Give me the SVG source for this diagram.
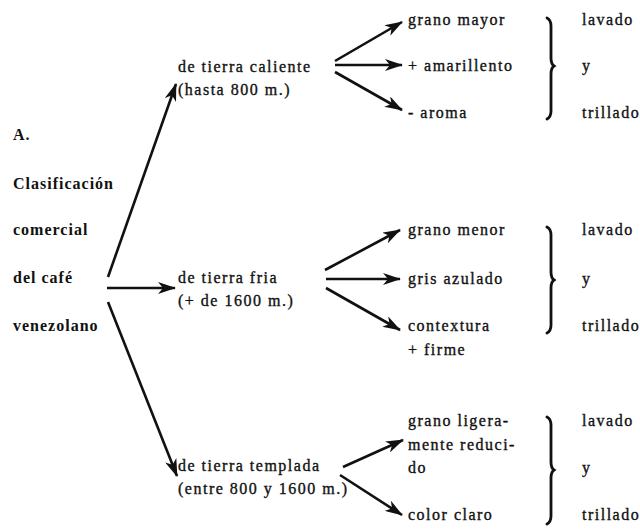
<svg xmlns="http://www.w3.org/2000/svg" width="640" height="529" viewBox="0 0 640 529">
<style>
.t{font-family:"Liberation Serif","Times New Roman",serif;font-size:16px;letter-spacing:1.5px;fill:#111;stroke:#111;stroke-width:0.35}
.b{font-family:"Liberation Serif","Times New Roman",serif;font-size:16px;font-weight:bold;letter-spacing:1px;fill:#111}
.c{stroke:#111;stroke-width:2.6;fill:none}
.br{stroke:#111;stroke-width:2.8;fill:none;stroke-linecap:round}
</style>
<defs>
<marker id="ah" viewBox="0 0 18 12" refX="17" refY="6" markerWidth="18" markerHeight="12" markerUnits="userSpaceOnUse" orient="auto">
<path d="M0,0 L18,6 L0,12 L5,6 Z" fill="#111"/>
</marker>
</defs>
<g id="root">
<text class="b" x="13" y="140">A.</text>
<text class="b" x="13" y="189">Clasificación</text>
<text class="b" x="13" y="235">comercial</text>
<text class="b" x="13" y="283">del café</text>
<text class="b" x="13" y="331">venezolano</text>
</g>
<g id="caliente">
<text class="t" x="178" y="72">de tierra caliente</text>
<text class="t" x="178" y="95">(hasta 800 m.)</text>
</g>
<g id="fria">
<text class="t" x="178" y="283">de tierra fria</text>
<text class="t" x="178" y="306">(+ de 1600 m.)</text>
</g>
<g id="templada">
<text class="t" x="178" y="471">de tierra templada</text>
<text class="t" x="178" y="494">(entre 800 y 1600 m.)</text>
</g>
<g id="c1"><text class="t" x="408" y="25">grano mayor</text></g>
<g id="c2"><text class="t" x="408" y="71">+ amarillento</text></g>
<g id="c3"><text class="t" x="408" y="118">- aroma</text></g>
<g id="f1"><text class="t" x="408" y="235">grano menor</text></g>
<g id="f2"><text class="t" x="408" y="284">gris azulado</text></g>
<g id="f3"><text class="t" x="408" y="331">contextura</text><text class="t" x="408" y="355">+ firme</text></g>
<g id="t1"><text class="t" x="408" y="426">grano ligera-</text><text class="t" x="408" y="450">mente reduci-</text><text class="t" x="408" y="473">do</text></g>
<g id="t2"><text class="t" x="408" y="520">color claro</text></g>
<g id="proc1">
<path class="br" d="M547,18 Q551,20 551,26 L551,58 Q551,64 554,66 Q551,68 551,74 L551,111 Q551,117 547,119"/>
<text class="t" x="582" y="25">lavado</text>
<text class="t" x="582" y="71">y</text>
<text class="t" x="582" y="118">trillado</text>
</g>
<g id="proc2">
<path class="br" d="M547,227 Q551,229 551,235 L551,272 Q551,278 554,280 Q551,282 551,288 L551,325 Q551,331 547,333"/>
<text class="t" x="582" y="235">lavado</text>
<text class="t" x="582" y="284">y</text>
<text class="t" x="582" y="331">trillado</text>
</g>
<g id="proc3">
<path class="br" d="M547,417 Q551,419 551,425 L551,462 Q551,468 554,470 Q551,472 551,478 L551,516 Q551,522 547,524"/>
<text class="t" x="582" y="426">lavado</text>
<text class="t" x="582" y="473">y</text>
<text class="t" x="582" y="520">trillado</text>
</g>
<g id="connectors">
<line class="c" x1="108" y1="277" x2="176" y2="84" marker-end="url(#ah)"/>
<line class="c" x1="107" y1="288" x2="175" y2="288" marker-end="url(#ah)"/>
<line class="c" x1="108" y1="302" x2="177" y2="476" marker-end="url(#ah)"/>
<line class="c" x1="335" y1="61" x2="402" y2="22" marker-end="url(#ah)"/>
<line class="c" x1="335" y1="65" x2="402" y2="65" marker-end="url(#ah)"/>
<line class="c" x1="335" y1="72" x2="402" y2="110" marker-end="url(#ah)"/>
<line class="c" x1="325" y1="270" x2="400" y2="230" marker-end="url(#ah)"/>
<line class="c" x1="326" y1="279" x2="400" y2="279" marker-end="url(#ah)"/>
<line class="c" x1="326" y1="288" x2="400" y2="330" marker-end="url(#ah)"/>
<line class="c" x1="343" y1="467" x2="403" y2="440" marker-end="url(#ah)"/>
<line class="c" x1="340" y1="475" x2="402" y2="515" marker-end="url(#ah)"/>
</g>
</svg>
